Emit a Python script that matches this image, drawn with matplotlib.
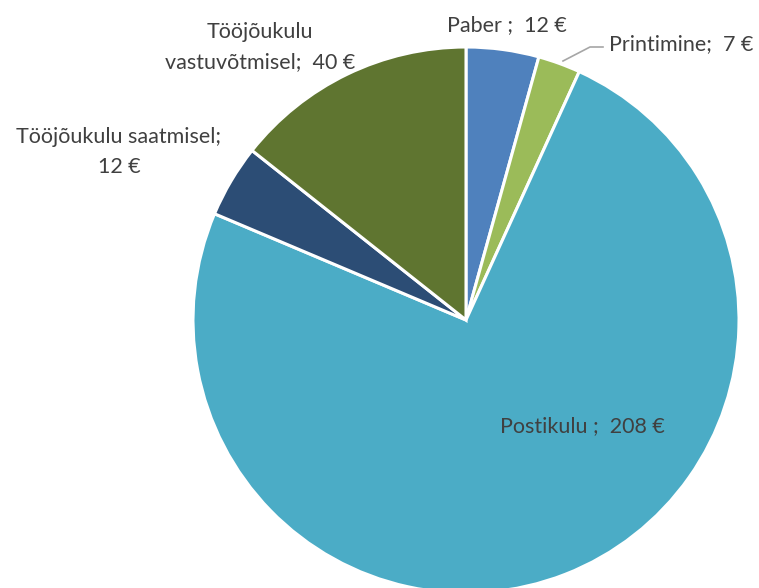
import matplotlib.pyplot as plt

plt.rcParams['font.family'] = ['Lato', 'DejaVu Sans']

# andmed
categories = ['Paber', 'Printimine', 'Postikulu', 'Tööjõukulu saatmisel', 'Tööjõukulu vastuvõtmisel']
values = [12, 7, 208, 12, 40]
colors = ['#4F81BD', '#9BBB59', '#4BACC6', '#2C4D75', '#5F7530']

W, H = 759, 588
fig = plt.figure(figsize=(W / 100, H / 100), dpi=100)

# pirukas: keskpunkt (466, 320), raadius 273 px
cx, cy, r = 466, 320, 273
ax = fig.add_axes([(cx - r) / W, (H - cy - r) / H, 2 * r / W, 2 * r / H])
ax.pie(values, colors=colors, startangle=90, counterclock=False,
       wedgeprops=dict(edgecolor='white', linewidth=2.2))
ax.set_xlim(-1, 1)
ax.set_ylim(-1, 1)
ax.set_aspect('equal')


def px(x, y):
    return x / W, 1 - y / H


txt = dict(color='#404040', fontsize=15.5, ha='center', va='center', linespacing=1.6)

fig.text(*px(507, 25), f'{categories[0]} ;  {values[0]} €', **txt)
fig.text(*px(681, 44), f'{categories[1]};  {values[1]} €', **txt)
fig.text(*px(582, 426), f'{categories[2]} ;  {values[2]} €', **txt)
fig.text(*px(119, 152), f'Tööjõukulu saatmisel;\n{values[3]} €', **txt)
fig.text(*px(260, 47), f'Tööjõukulu\nvastuvõtmisel;  {values[4]} €', **txt)

# juhtjoon Printimine sildile
lx = [563 / W, 590 / W, 603 / W]
ly = [1 - 61 / H, 1 - 47 / H, 1 - 47 / H]
fig.add_artist(plt.Line2D(lx, ly, color='#A6A6A6', linewidth=1.2))

fig.savefig('out.png', dpi=100)
